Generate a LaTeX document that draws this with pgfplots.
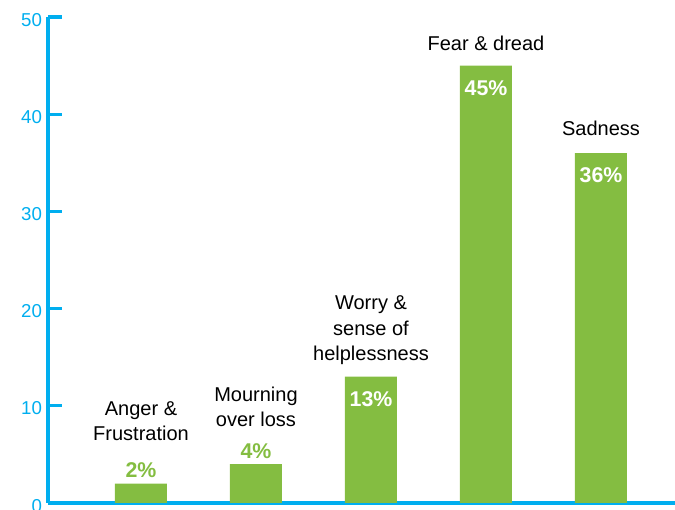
\documentclass[border=0pt]{standalone}
\usepackage{fontspec}
\setmainfont{Liberation Sans}
\usepackage{pgfplots}
\pgfplotsset{compat=1.18}
\definecolor{barg}{RGB}{132,189,65}
\definecolor{axc}{RGB}{0,174,239}
\begin{document}
\begin{tikzpicture}
\useasboundingbox (-36pt,-5.25pt) rectangle (470.25pt,377.25pt);
\begin{scope}
\clip (-36pt,-5.25pt) rectangle (470.25pt,377.25pt);
\begin{axis}[
  at={(0pt,0pt)}, anchor=south west,
  scale only axis, width=470.25pt, height=364.5pt,
  xmin=-0.8087, xmax=4.6435, ymin=0, ymax=50,
  axis x line*=bottom, axis y line*=left,
  axis line style={axc, line width=2.4pt},
  xtick=\empty,
  ytick={0,10,20,30,40,50},
  tick style={axc, line width=2.4pt},
  major tick length=10.5pt,
  tick align=inside,
  yticklabel style={axc, font=\fontsize{14}{14}\selectfont, xshift=-1pt, yshift=-2pt},
  /pgf/number format/assume math mode=true,
  clip=false,
]
\addplot[ybar, bar width=39pt, bar shift=0pt, fill=barg, draw=none,
  nodes near coords={\pgfmathprintnumber{\pgfplotspointmeta}\%},
  nodes near coords style={white, font=\bfseries\fontsize{16}{16}\selectfont, inner sep=0pt, text depth=0pt, yshift=-22.5pt}]
  coordinates {(2,13) (3,45) (4,36)};
\addplot[ybar, bar width=39pt, bar shift=0pt, fill=barg, draw=none,
  nodes near coords={\pgfmathprintnumber{\pgfplotspointmeta}\%},
  nodes near coords style={barg, font=\bfseries\fontsize{16}{16}\selectfont, inner sep=0pt, text depth=0pt, yshift=4pt}]
  coordinates {(0,2) (1,4)};
\tikzset{cat/.style={anchor=south, align=center, inner sep=0pt, text depth=0pt, font=\fontsize{15}{19}\selectfont}}
\node[cat, yshift=32pt] at (axis cs:0,2) {Anger \&\\Frustration};
\node[cat, yshift=28pt] at (axis cs:1,4) {Mourning\\over loss};
\node[cat, yshift=12pt] at (axis cs:2,13) {Worry \&\\sense of\\helplessness};
\node[cat, yshift=11.5pt] at (axis cs:3,45) {Fear \& dread};
\node[cat, yshift=13pt] at (axis cs:4,36) {Sadness};
\end{axis}
\end{scope}
\end{tikzpicture}
\end{document}
